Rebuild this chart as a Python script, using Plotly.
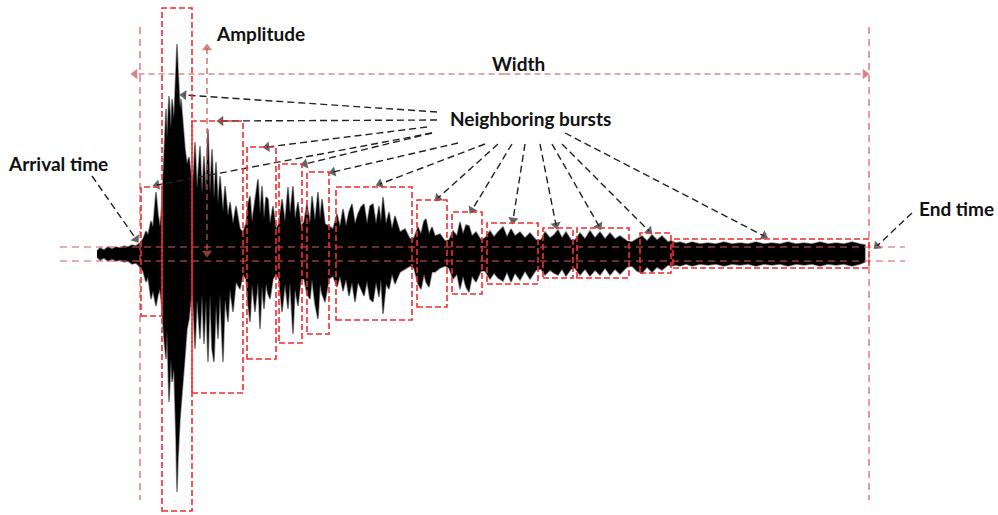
import plotly.graph_objects as go

# ---------------------------------------------------------------------------
# Acoustic-emission waveform: upper and lower envelope (time in samples,
# amplitude in arbitrary units, zero = signal baseline)
# ---------------------------------------------------------------------------
t = [97, 100, 104, 108, 112, 116, 120, 124, 128, 132, 136, 140,
     143, 146, 148, 151, 153, 156, 158, 160, 162,
     164, 166, 167, 169, 171, 172, 174, 176, 177, 178, 180, 181, 183, 185, 187, 189, 191,
     193, 195, 197, 200, 202, 204, 206, 208, 210, 212, 214, 216, 218, 220, 223, 225, 228, 230, 233, 236, 240, 243,
     246, 248, 250, 252, 255, 258, 260, 262, 264, 266, 268, 270, 273, 276,
     279, 282, 285, 288, 290, 293, 295, 298, 301,
     304, 307, 310, 312, 315, 318, 320, 322, 325, 329,
     333, 337, 340, 343, 346, 349, 352, 355, 358, 361, 364, 367, 370, 373, 376, 379, 381, 383, 386, 389, 392, 395, 400, 405, 410,
     414, 418, 421, 424, 426, 429, 432, 435, 440, 445,
     449, 453, 457, 460, 463, 466, 469, 472, 476, 481,
     485, 490, 494, 498, 503, 507, 511, 515, 520, 525, 530, 536,
     541, 545, 550, 554, 558, 562, 566, 571,
     575, 580, 585, 590, 595, 600, 605, 610, 615, 620, 627,
     632, 637, 642, 647, 652, 657, 662, 668,
     671, 676, 680, 686, 692, 700, 708, 716, 724, 732, 740, 748, 756, 764, 772, 780, 788, 796,
     804, 812, 820, 828, 836, 844, 852, 860, 865]

amp_upper = [3, 6, 4, 7, 5, 7, 6, 8, 7, 9, 8, 11,
             15, 23, 19, 33, 27, 62, 40, 27, 50,
             95, 145, 115, 158, 125, 155, 135, 195, 210, 185, 145, 155, 125, 105, 90, 97, 80,
             70, 112, 65, 108, 60, 98, 62, 125, 60, 105, 55, 92, 50, 78, 42, 68, 38, 52, 30, 48, 25, 22,
             30, 50, 58, 32, 55, 75, 40, 68, 35, 57, 55, 30, 48, 25,
             30, 55, 32, 67, 40, 68, 35, 52, 28,
             32, 50, 30, 58, 33, 62, 35, 55, 30, 28,
             25, 40, 27, 45, 28, 42, 50, 30, 40, 47, 50, 30, 48, 50, 30, 48, 32, 57, 30, 42, 25, 38, 22, 25, 15,
             16, 27, 20, 33, 35, 20, 27, 18, 20, 13,
             14, 23, 18, 32, 20, 29, 28, 18, 22, 14,
             16, 23, 17, 22, 27, 17, 25, 18, 22, 16, 21, 14,
             14, 22, 16, 19, 24, 16, 22, 14,
             14, 21, 15, 23, 16, 22, 15, 21, 15, 18, 13,
             12, 15, 18, 13, 19, 14, 18, 12,
             13, 11, 12, 10, 12, 10, 11, 10, 12, 10, 11, 10, 12, 10, 11, 10, 12, 10,
             11, 10, 12, 10, 11, 10, 12, 10, 9]

amp_lower = [-3, -6, -4, -7, -5, -7, -6, -8, -7, -10, -9, -13,
             -17, -28, -23, -45, -37, -52, -41, -35, -55,
             -85, -105, -75, -148, -105, -128, -115, -185, -238, -205, -165, -152, -125, -102, -75, -65, -45,
             -45, -95, -45, -85, -40, -90, -45, -108, -40, -95, -108, -50, -85, -40, -108, -45, -68, -35, -58, -28, -35, -20,
             -25, -50, -68, -30, -58, -28, -75, -32, -55, -30, -40, -45, -25, -20,
             -25, -58, -30, -55, -28, -80, -35, -52, -25,
             -25, -40, -45, -25, -50, -65, -30, -40, -48, -25,
             -22, -33, -22, -37, -25, -42, -28, -48, -28, -35, -42, -27, -45, -48, -28, -43, -25, -60, -30, -35, -20, -30, -18, -15, -12,
             -14, -30, -35, -20, -28, -33, -18, -18, -14, -12,
             -14, -25, -20, -35, -22, -33, -38, -22, -28, -17,
             -17, -25, -19, -24, -27, -18, -28, -19, -26, -17, -25, -16,
             -15, -21, -16, -19, -21, -15, -22, -15,
             -14, -21, -15, -22, -16, -21, -14, -21, -15, -20, -13,
             -12, -17, -19, -13, -18, -13, -16, -11,
             -12, -11, -12, -10, -12, -10, -11, -10, -12, -10, -11, -10, -12, -10, -11, -10, -12, -10,
             -11, -10, -12, -10, -11, -10, -12, -10, -8]

# Detection threshold, arrival / end time, peak amplitude
threshold_pos = 7
threshold_neg = -7
arrival_time = 140
end_time = 869
peak_amplitude = 210

# Individual bursts (start, end, max, min)
burst_start = [141, 162, 192, 247, 279, 307, 336, 417, 452, 487, 543, 577, 640, 673]
burst_end = [162, 192, 243, 276, 302, 329, 412, 447, 482, 538, 573, 629, 671, 869]
burst_max = [67, 246, 133, 107, 90, 82, 67, 54, 42, 31, 26, 26, 21, 15]
burst_min = [-62, -257, -139, -105, -89, -80, -66, -53, -40, -30, -24, -24, -19, -14]

# Label text
label_arrival = "Arrival time"
label_end = "End time"
label_width = "Width"
label_amplitude = "Amplitude"
label_bursts = "Neighboring bursts"

# Leader arrows from the "Neighboring bursts" label: (x0, y0) -> (x1, y1)
burst_leaders = [
    ((437, 142), (184, 159)),
    ((437, 134), (221, 133)),
    ((427, 127), (267, 107)),
    ((432, 121), (305, 90)),
    ((432, 121), (157, 69)),
    ((458, 111), (333, 82)),
    ((485, 110), (380, 70)),
    ((498, 110), (438, 56)),
    ((512, 110), (472, 44)),
    ((525, 110), (513, 34)),
    ((540, 110), (556, 29)),
    ((552, 110), (599, 28)),
    ((562, 110), (649, 23)),
    ((565, 121), (764, 18)),
]
time_leaders = [
    ((92, 78), (136, 15)),
    ((912, 41), (877, 8)),
]

RED_BOX = "#f52c2c"
RED_DIM = "#db5a57"
ARROW_RED = "#c4544f"
TEXT = "#111111"
FONT = "Lato"

fig = go.Figure()

# waveform (filled envelope)
wave_x = t + t[::-1]
wave_y = amp_upper + amp_lower[::-1]
fig.add_trace(go.Scatter(
    x=wave_x, y=wave_y, mode="lines", fill="toself",
    fillcolor="#000000", line=dict(color="rgba(0,0,0,0.45)", width=1.6),
    hoverinfo="skip", showlegend=False,
))


def arrow_trace(segments, color, width, dash, size):
    xs, ys, sz = [], [], []
    for (x0, y0), (x1, y1) in segments:
        xs += [x0, x1, None]
        ys += [y0, y1, None]
        sz += [0, size, 0]
    return go.Scatter(
        x=xs, y=ys, mode="lines+markers",
        line=dict(color=color, width=width, dash=dash),
        marker=dict(symbol="triangle-up", size=sz, color=color,
                    angleref="previous", line=dict(width=0)),
        hoverinfo="skip", showlegend=False, connectgaps=False,
    )


# black leader arrows
fig.add_trace(arrow_trace(burst_leaders + time_leaders, "#222222", 1.4, "7px,4px", 9))

# width arrow (double headed) and amplitude arrow (double headed)
width_y = 180
width_mid = (arrival_time + end_time) / 2
fig.add_trace(arrow_trace(
    [((width_mid, width_y), (arrival_time - 5, width_y)),
     ((width_mid, width_y), (end_time - 4, width_y))],
    ARROW_RED, 1.2, "6px,4px", 9))
amp_x = 207
fig.add_trace(arrow_trace(
    [((amp_x, 100), (amp_x, peak_amplitude - 4)),
     ((amp_x, 100), (amp_x, threshold_pos - 6))],
    ARROW_RED, 1.2, "6px,4px", 9))

shapes = []
# threshold lines
for thr in (threshold_pos, threshold_neg):
    shapes.append(dict(type="line", xref="x", yref="y", x0=60, x1=905, y0=thr, y1=thr,
                       line=dict(color=RED_DIM, width=1.2, dash="7px,5px")))
# arrival / end time verticals
for tv in (arrival_time, end_time):
    shapes.append(dict(type="line", xref="x", yref="y", x0=tv, x1=tv, y0=227, y1=-246,
                       line=dict(color=RED_DIM, width=1.2, dash="7px,5px")))
# burst boxes
for s, e, hi, lo in zip(burst_start, burst_end, burst_max, burst_min):
    shapes.append(dict(type="rect", xref="x", yref="y", x0=s, x1=e, y0=lo, y1=hi,
                       line=dict(color=RED_BOX, width=1.6, dash="6px,3px"),
                       fillcolor="rgba(0,0,0,0)"))

font = dict(family=FONT, size=19, color=TEXT, weight="bold")
annotations = [
    dict(x=260, y=221, text=label_amplitude),
    dict(x=518, y=191, text=label_width),
    dict(x=530, y=136, text=label_bursts),
    dict(x=58, y=91, text=label_arrival),
    dict(x=956, y=46, text=label_end),
]
for a in annotations:
    a.update(xref="x", yref="y", showarrow=False, font=font,
             xanchor="center", yanchor="middle")

fig.update_layout(
    width=998, height=515,
    margin=dict(l=0, r=0, t=0, b=0),
    paper_bgcolor="white", plot_bgcolor="white",
    xaxis=dict(range=[0, 998], visible=False, fixedrange=True),
    yaxis=dict(range=[-261, 254], visible=False, fixedrange=True),
    shapes=shapes, annotations=annotations,
    showlegend=False,
)

fig.write_html("out.html")
